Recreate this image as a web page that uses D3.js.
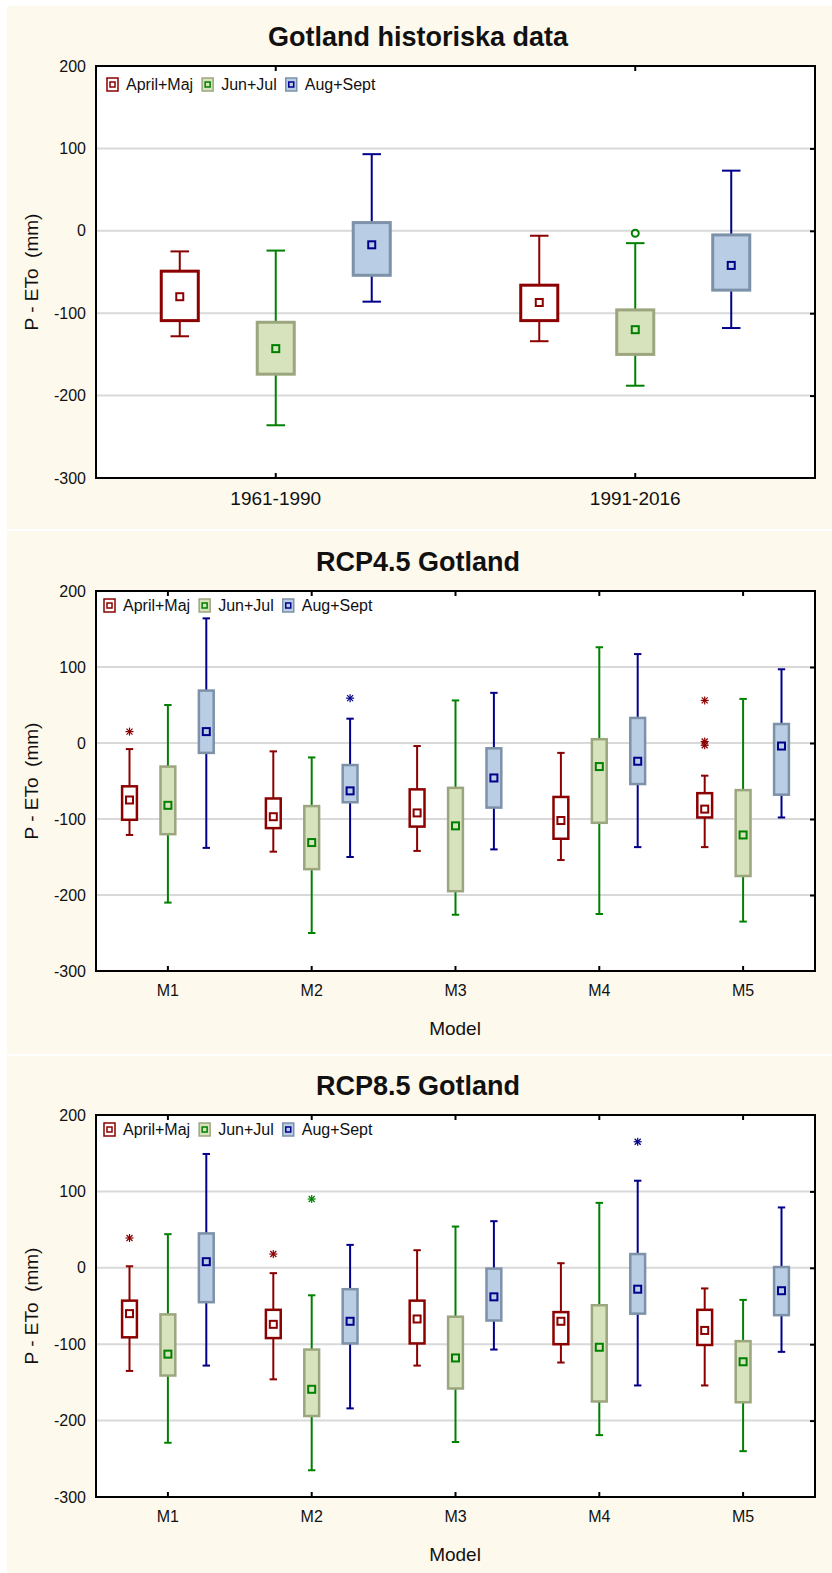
<!DOCTYPE html>
<html>
<head>
<meta charset="utf-8">
<script src="https://cdn.jsdelivr.net/npm/d3@7"></script>
<style>
  body { margin: 0; background: #fff; }
  text { font-family: "Liberation Sans", Arial, sans-serif; fill: #111; }
</style>
</head>
<body>
<div id="chart"></div>
<script>
// series names (legend)
var seriesNames = ["April+Maj", "Jun+Jul", "Aug+Sept"];
var yTicks = [200, 100, 0, -100, -200, -300];

// each box: [whisker low, box low, marker, box high, whisker high]
var histCategories = ["1961-1990", "1991-2016"];
var histApril = [[-128, -109, -80, -49, -25], [-134, -109, -87, -66, -6]];
var histJun = [[-236, -174, -143, -111, -24], [-188, -150, -120, -96, -15]];
var histAug = [[-86, -54, -17, 10, 93], [-118, -72, -42, -5, 73]];
var histAprilOut = [[], []];
var histJunOut = [[], [-3]];
var histAugOut = [[], []];

var modelCategories = ["M1", "M2", "M3", "M4", "M5"];

var rcp45April = [[-121, -101, -75, -57, -8], [-143, -112, -97, -73, -11], [-142, -110, -92, -61, -4], [-154, -126, -102, -71, -13], [-137, -98, -87, -66, -43]];
var rcp45Jun = [[-210, -120, -82, -31, 50], [-250, -166, -131, -83, -19], [-226, -195, -109, -59, 56], [-225, -105, -31, 5, 126], [-235, -175, -121, -62, 58]];
var rcp45Aug = [[-138, -13, 15, 69, 164], [-150, -78, -63, -29, 32], [-140, -85, -46, -7, 66], [-137, -54, -24, 33, 117], [-98, -68, -4, 25, 97]];
var rcp45AprilOut = [[15], [], [], [], [56, 2, -3]];
var rcp45JunOut = [[], [], [], [], []];
var rcp45AugOut = [[], [59], [], [], []];

var rcp85April = [[-135, -91, -60, -43, 2], [-146, -92, -74, -55, -7], [-128, -99, -67, -43, 23], [-124, -100, -70, -58, 6], [-154, -101, -82, -55, -27]];
var rcp85Jun = [[-229, -141, -113, -61, 44], [-265, -194, -159, -107, -36], [-228, -158, -118, -64, 54], [-219, -175, -104, -49, 85], [-240, -176, -123, -96, -42]];
var rcp85Aug = [[-128, -45, 8, 45, 149], [-184, -99, -70, -28, 30], [-107, -69, -38, -1, 61], [-154, -60, -28, 18, 114], [-110, -62, -30, 1, 79]];
var rcp85AprilOut = [[39], [18], [], [], []];
var rcp85JunOut = [[], [90], [], [], []];
var rcp85AugOut = [[], [], [], [165], []];

// styles per series
var lineColors = ["#8b0000", "#008000", "#00008b"];
var boxFills = ["#ffffff", "#d7e3bd", "#b9cde5"];
var boxStrokes = ["#8b0000", "#9ba67e", "#7d91a8"];

var svg = d3.select("#chart").append("svg")
    .attr("width", 832)
    .attr("height", 1573);

function drawPanel(p) {
    var g = svg.append("g");
    g.append("rect")
        .attr("x", 7).attr("y", p.bgTop)
        .attr("width", 825).attr("height", p.bgBottom - p.bgTop)
        .attr("fill", "#fef9ed");

    var left = 96, right = 815;
    var x = d3.scaleBand().domain(p.categories).range([left, right]).padding(0);
    var y = d3.scaleLinear().domain([-300, 200]).range([p.bottom, p.top]);
    var bw = x.bandwidth();
    var offset = d3.scalePoint().domain(seriesNames).range([-0.267 * bw, 0.267 * bw]);
    var boxW = 0.103 * bw;
    var capW = boxW * 0.5;

    g.append("rect")
        .attr("x", left).attr("y", p.top)
        .attr("width", right - left).attr("height", p.bottom - p.top)
        .attr("fill", "#fff");

    // gridlines
    g.selectAll("line.grid").data(yTicks.filter(function (d) { return d > -300 && d < 200; }))
        .enter().append("line")
        .attr("x1", left).attr("x2", right)
        .attr("y1", function (d) { return y(d); })
        .attr("y2", function (d) { return y(d); })
        .attr("stroke", "#d9d9d9").attr("stroke-width", 2);

    // left axis labels (plain hyphen minus like the original)
    var yAxis = d3.axisLeft(y).tickValues(yTicks).tickSize(0).tickPadding(10)
        .tickFormat(function (d) { return String(d); });
    var ya = g.append("g").attr("transform", "translate(" + left + ",0)").call(yAxis);
    ya.select(".domain").remove();
    ya.selectAll("text").style("font-size", "16px").attr("fill", "#111")
        .style("font-family", '"Liberation Sans", Arial, sans-serif');

    // right inner ticks
    var yRight = d3.axisLeft(y).tickValues(yTicks.slice(1, 5)).tickSize(5).tickFormat("");
    var yr = g.append("g").attr("transform", "translate(" + right + ",0)").call(yRight);
    yr.select(".domain").remove();
    yr.selectAll("line").attr("stroke", "#000").attr("stroke-width", 2);

    // bottom labels + inner ticks
    var xAxis = d3.axisBottom(x).tickSize(0).tickPadding(p.labelPad);
    var xa = g.append("g").attr("transform", "translate(0," + p.bottom + ")").call(xAxis);
    xa.select(".domain").remove();
    xa.selectAll("text").style("font-size", p.xFont + "px").attr("fill", "#111")
        .style("font-family", '"Liberation Sans", Arial, sans-serif');
    var xIn = d3.axisTop(x).tickSize(5).tickFormat("");
    var xi = g.append("g").attr("transform", "translate(0," + p.bottom + ")").call(xIn);
    xi.select(".domain").remove();
    xi.selectAll("line").attr("stroke", "#000").attr("stroke-width", 2);
    var xTop = d3.axisBottom(x).tickSize(5).tickFormat("");
    var xt = g.append("g").attr("transform", "translate(0," + p.top + ")").call(xTop);
    xt.select(".domain").remove();
    xt.selectAll("line").attr("stroke", "#000").attr("stroke-width", 2);

    // boxes
    p.series.forEach(function (s, si) {
        var name = seriesNames[si];
        var sg = g.append("g");
        var items = s.map(function (v, i) { return { cat: p.categories[i], v: v }; });
        var cx = function (d) { return x(d.cat) + bw / 2 + offset(name); };

        sg.selectAll("line.wh").data(items).enter().append("line")
            .attr("x1", cx).attr("x2", cx)
            .attr("y1", function (d) { return y(d.v[0]); })
            .attr("y2", function (d) { return y(d.v[4]); })
            .attr("stroke", lineColors[si]).attr("stroke-width", 2);
        [0, 4].forEach(function (k) {
            sg.selectAll("line.cap" + k).data(items).enter().append("line")
                .attr("x1", function (d) { return cx(d) - capW / 2; })
                .attr("x2", function (d) { return cx(d) + capW / 2; })
                .attr("y1", function (d) { return y(d.v[k]); })
                .attr("y2", function (d) { return y(d.v[k]); })
                .attr("stroke", lineColors[si]).attr("stroke-width", 2);
        });
        sg.selectAll("rect.box").data(items).enter().append("rect")
            .attr("x", function (d) { return cx(d) - boxW / 2; })
            .attr("y", function (d) { return y(d.v[3]); })
            .attr("width", boxW)
            .attr("height", function (d) { return y(d.v[1]) - y(d.v[3]); })
            .attr("fill", boxFills[si]).attr("stroke", boxStrokes[si])
            .attr("stroke-width", p.boxStroke);
        sg.selectAll("rect.mk").data(items).enter().append("rect")
            .attr("x", function (d) { return cx(d) - 3.5; })
            .attr("y", function (d) { return y(d.v[2]) - 3.5; })
            .attr("width", 7).attr("height", 7)
            .attr("fill", "none").attr("stroke", lineColors[si]).attr("stroke-width", 2);

        // outliers
        var outs = [];
        p.outliers[si].forEach(function (arr, i) {
            arr.forEach(function (v) { outs.push({ cat: p.categories[i], v: v }); });
        });
        if (p.outShape === "circle") {
            sg.selectAll("circle.out").data(outs).enter().append("circle")
                .attr("cx", cx).attr("cy", function (d) { return y(d.v); })
                .attr("r", 3.5).attr("fill", "none")
                .attr("stroke", lineColors[si]).attr("stroke-width", 2);
        } else {
            var star = sg.selectAll("g.out").data(outs).enter().append("g")
                .attr("transform", function (d) { return "translate(" + cx(d) + "," + y(d.v) + ")"; });
            [[-4, 0, 4, 0], [0, -4, 0, 4], [-3, -3, 3, 3], [-3, 3, 3, -3]].forEach(function (l) {
                star.append("line")
                    .attr("x1", l[0]).attr("y1", l[1]).attr("x2", l[2]).attr("y2", l[3])
                    .attr("stroke", lineColors[si]).attr("stroke-width", 1.2);
            });
        }
    });

    // frame
    g.append("rect")
        .attr("x", left).attr("y", p.top)
        .attr("width", right - left).attr("height", p.bottom - p.top)
        .attr("fill", "none").attr("stroke", "#000").attr("stroke-width", 2);

    // legend
    var lx = left + p.legendDx;
    var lg = g.append("g");
    seriesNames.forEach(function (name, si) {
        lg.append("rect")
            .attr("x", lx).attr("y", p.top + p.legendDy)
            .attr("width", 11).attr("height", 13)
            .attr("fill", boxFills[si]).attr("stroke", boxStrokes[si]).attr("stroke-width", 1.5);
        lg.append("rect")
            .attr("x", lx + 3).attr("y", p.top + p.legendDy + 4)
            .attr("width", 5).attr("height", 5)
            .attr("fill", "none").attr("stroke", lineColors[si]).attr("stroke-width", 1.5);
        var t = lg.append("text")
            .attr("x", lx + 19).attr("y", p.top + p.legendDy + 12)
            .style("font-size", "16px")
            .text(name);
        lx = lx + 19 + t.node().getComputedTextLength() + 9;
    });

    // titles
    g.append("text")
        .attr("x", 418).attr("y", p.top - 20)
        .attr("text-anchor", "middle")
        .style("font-size", "27px").style("font-weight", "bold")
        .text(p.title);
    g.append("text")
        .attr("transform", "translate(38," + ((p.top + p.bottom) / 2) + ") rotate(-90)")
        .attr("text-anchor", "middle")
        .style("font-size", "19px")
        .style("white-space", "pre")
        .text("P - ETo  (mm)");
    if (p.xTitle) {
        g.append("text")
            .attr("x", 455).attr("y", p.bottom + 64)
            .attr("text-anchor", "middle")
            .style("font-size", "19px")
            .text(p.xTitle);
    }
}

drawPanel({
    title: "Gotland historiska data", categories: histCategories,
    series: [histApril, histJun, histAug], outliers: [histAprilOut, histJunOut, histAugOut],
    outShape: "circle", bgTop: 6, bgBottom: 529, top: 66, bottom: 478,
    labelPad: 14, xFont: 19, boxStroke: 3, legendDx: 11, legendDy: 12, xTitle: null
});
drawPanel({
    title: "RCP4.5 Gotland", categories: modelCategories,
    series: [rcp45April, rcp45Jun, rcp45Aug], outliers: [rcp45AprilOut, rcp45JunOut, rcp45AugOut],
    outShape: "star", bgTop: 531, bgBottom: 1054, top: 591, bottom: 971,
    labelPad: 14, xFont: 16, boxStroke: 2.5, legendDx: 8, legendDy: 8, xTitle: "Model"
});
drawPanel({
    title: "RCP8.5 Gotland", categories: modelCategories,
    series: [rcp85April, rcp85Jun, rcp85Aug], outliers: [rcp85AprilOut, rcp85JunOut, rcp85AugOut],
    outShape: "star", bgTop: 1056, bgBottom: 1573, top: 1115, bottom: 1497,
    labelPad: 14, xFont: 16, boxStroke: 2.5, legendDx: 8, legendDy: 8, xTitle: "Model"
});
</script>
</body>
</html>
